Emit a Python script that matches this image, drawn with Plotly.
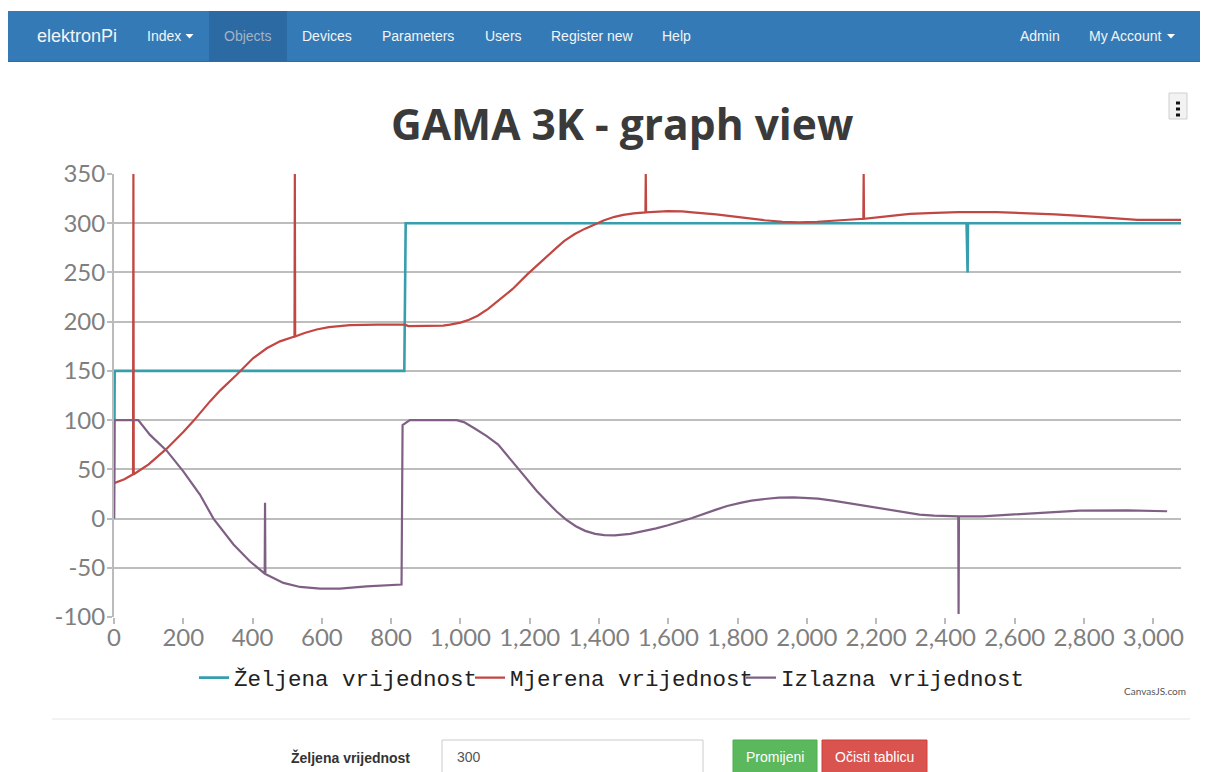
import plotly.graph_objects as go

# ---------------- data ----------------
series_names = ["Željena vrijednost", "Mjerena vrijednost", "Izlazna vrijednost"]
series_colors = ["#369EAD", "#C24642", "#7F6084"]

x_zeljena = [0, 2, 838, 842, 2461, 2462, 2464, 2465, 3080]
y_zeljena = [0, 150, 150, 300, 300, 250, 250, 300, 300]

x_mjerena = [0, 30, 55, 56, 57, 100, 152, 200, 229, 277, 306, 354, 402, 441, 479, 521, 522, 523,
             550, 585, 620, 681, 760, 839, 850, 900, 950, 970, 1000, 1025, 1050, 1080, 1109, 1150,
             1193, 1235, 1277, 1300, 1330, 1360, 1389, 1415, 1445, 1470, 1500, 1534, 1535, 1536,
             1599, 1640, 1670, 1738, 1810, 1878, 1930, 1976, 2030, 2087, 2163, 2164, 2165, 2230,
             2297, 2370, 2437, 2548, 2630, 2716, 2790, 2856, 2954, 3080]
y_mjerena = [36, 40, 45, 350, 45, 55, 71, 88, 99, 119, 130, 146, 163, 173, 180, 185, 350, 185,
             188.5, 192, 194.5, 196.5, 197, 197, 195.5, 195.5, 196, 197, 199, 202, 206, 213, 221, 233,
             248, 262, 275, 282, 289, 294.5, 299, 303, 306.5, 308.5, 310, 311, 350, 311,
             312.3, 312, 311, 309, 306, 303, 301.5, 301, 301.5, 303, 304.5, 350, 304.5, 307,
             309.5, 310.5, 311.3, 311.3, 310.5, 309, 307.5, 305.6, 303.3, 303.3]

x_izlazna = [0, 1, 70, 104, 152, 200, 248, 287, 345, 392, 435, 436, 437, 489, 537, 595, 652, 729,
             825, 830, 833, 854, 989, 1010, 1039, 1075, 1109, 1165, 1221, 1250, 1277, 1305, 1333,
             1360, 1389, 1415, 1445, 1490, 1529, 1565, 1599, 1669, 1738, 1770, 1808, 1840, 1878,
             1920, 1962, 2000, 2032, 2075, 2117, 2160, 2200, 2240, 2283, 2325, 2367, 2400, 2437,
             2438, 2439, 2507, 2647, 2787, 2926, 3040]
y_izlazna = [0, 100, 100, 85, 69, 48, 24.4, 0, -26.4, -43.4, -56, 16, -56.3, -65.4, -69.5, -71.1,
             -71.1, -68.8, -67, -67, 95, 100, 100, 98, 92, 84, 75.2, 51.4, 27.7, 17, 7.4, -1, -7.8,
             -12.5, -15.6, -16.8, -17, -15.5, -12.9, -10, -6.8, 0.6, 9.1, 12.7, 15.9, 18.2, 19.9,
             21.2, 21.6, 21.3, 20.3, 18.3, 15.9, 13.4, 10.8, 8.2, 5.7, 4, 3, 2.5, 2.3,
             -97, 2.3, 2.3, 5, 8.1, 8.4, 7.4]

x_tickvals = [0, 200, 400, 600, 800, 1000, 1200, 1400, 1600, 1800, 2000, 2200, 2400, 2600, 2800, 3000]
x_ticktext = ["0", "200", "400", "600", "800", "1,000", "1,200", "1,400", "1,600", "1,800",
              "2,000", "2,200", "2,400", "2,600", "2,800", "3,000"]
y_tickvals = [-100, -50, 0, 50, 100, 150, 200, 250, 300, 350]
y_ticktext = ["-100", "-50", "0", "50", "100", "150", "200", "250", "300", "350"]

chart_title = "GAMA 3K - graph view"
nav_items = ["Index", "Objects", "Devices", "Parameters", "Users", "Register new", "Help"]
nav_right = ["Admin", "My Account"]

# ---------------- page geometry ----------------
W, H = 1208, 772
PL, PR, PT, PB = 114, 1181, 174, 617


def fx(px):
    return (px - PL) / (PR - PL)


def fy(py):
    return (PB - py) / (PB - PT)


fig = go.Figure()
legend_ids = ["legend", "legend2", "legend3"]
for name, col, xs, ys, w, lg in [
    (series_names[0], series_colors[0], x_zeljena, y_zeljena, 2.6, legend_ids[0]),
    (series_names[1], series_colors[1], x_mjerena, y_mjerena, 2.2, legend_ids[1]),
    (series_names[2], series_colors[2], x_izlazna, y_izlazna, 2.2, legend_ids[2]),
]:
    fig.add_trace(go.Scatter(x=xs, y=ys, mode="lines", name=name, legend=lg,
                             line=dict(color=col, width=w)))

shapes = []
annotations = []


def rect(x0, y0, x1, y1, fill, line=None, lw=0, layer="above"):
    shapes.append(dict(type="rect", xref="paper", yref="paper",
                       x0=fx(x0), x1=fx(x1), y0=fy(y1), y1=fy(y0),
                       fillcolor=fill, line=dict(color=line or fill, width=lw), layer=layer))


def text(t, x, y, size=14, color="#fff", family="Liberation Sans, Arial, sans-serif",
         xanchor="left", bold=False):
    if bold:
        t = "<b>" + t + "</b>"
    annotations.append(dict(text=t, x=fx(x), y=fy(y), xref="paper", yref="paper",
                            xanchor=xanchor, yanchor="middle", showarrow=False,
                            font=dict(size=size, color=color, family=family)))


def caret(xc, yc, col="#fff"):
    shapes.append(dict(type="path", xref="paper", yref="paper",
                       path=f"M {fx(xc-4)},{fy(yc-2)} L {fx(xc+4)},{fy(yc-2)} L {fx(xc)},{fy(yc+2.5)} Z",
                       fillcolor=col, line=dict(width=0)))


# navbar
rect(8, 11, 1200, 62, "#337ab7")
rect(209, 11, 287, 61, "#2b6aa3")
shapes.append(dict(type="line", xref="paper", yref="paper", x0=fx(8), x1=fx(1200),
                   y0=fy(61.5), y1=fy(61.5), line=dict(color="#2e6da4", width=1)))
text("elektronPi", 35, 36, size=18, color="#f4f4f4")
nav_x = [145, 222, 300, 380, 483, 549, 660]
for t, xx in zip(nav_items, nav_x):
    text(t, xx, 36, color="#a4b3c4" if t == "Objects" else "#f4f4f4")
caret(189.5, 36)
text(nav_right[0], 1018, 36, color="#f4f4f4")
text(nav_right[1], 1087, 36, color="#f4f4f4")
caret(1171, 36)

# title
text(chart_title, 622, 124, size=42.5, color="#3a3a3a",
     family="Open Sans, Lato, sans-serif", xanchor="center", bold=True)

# menu button
rect(1169, 93, 1187, 119, "#f2f2f2", line="#cfcfcf", lw=1)
for yy in (103, 109, 115):
    rect(1176, yy - 1.5, 1180, yy + 1.5, "#111")

# credit
text("CanvasJS.com", 1188, 691, size=10, color="#555",
     family="Lato, Open Sans, sans-serif", xanchor="right")

# separator
shapes.append(dict(type="line", xref="paper", yref="paper", x0=fx(52), x1=fx(1190),
                   y0=fy(719), y1=fy(719), line=dict(color="#e6e6e6", width=1)))

# form row
text("Željena vrijednost", 412, 757, size=14, color="#333", xanchor="right", bold=True)
rect(442, 740, 703, 775, "#ffffff", line="#cccccc", lw=1)
text("300", 455, 757, size=14, color="#555")
rect(733, 740, 817, 775, "#5cb85c", line="#4cae4c", lw=1)
text("Promijeni", 775, 757, size=14, color="#fff", xanchor="center")
rect(822, 740, 927, 775, "#d9534f", line="#d43f3a", lw=1)
text("Očisti tablicu", 874.5, 757, size=14, color="#fff", xanchor="center")

legend_font = dict(family="Courier New, Liberation Mono, monospace", size=22.5, color="#222")


def legend_at(px_start):
    return dict(orientation="h", x=fx(px_start), xanchor="left", y=fy(678), yanchor="middle",
                font=legend_font, itemwidth=30, bgcolor="rgba(0,0,0,0)",
                itemclick=False, itemdoubleclick=False)


tick_font = dict(family="Lato, Open Sans, sans-serif", size=24, color="#7f7f7f")
fig.update_layout(
    width=W, height=H, autosize=False,
    margin=dict(l=PL, r=W - PR, t=PT, b=H - PB, pad=0),
    paper_bgcolor="#ffffff", plot_bgcolor="#ffffff",
    showlegend=True,
    legend=legend_at(194), legend2=legend_at(470), legend3=legend_at(741),
    xaxis=dict(range=[0, 3080], tickvals=x_tickvals, ticktext=x_ticktext, showgrid=False,
               zeroline=False, showline=False, ticks="outside", ticklen=6, tickwidth=2,
               tickcolor="#bbbbbb", tickfont=tick_font, fixedrange=True, ticklabelstandoff=-7),
    yaxis=dict(range=[-100, 350], tickvals=y_tickvals, ticktext=y_ticktext, showgrid=True,
               gridcolor="#bdbdbd", gridwidth=2, zeroline=False, showline=True,
               linecolor="#bbbbbb", linewidth=2, ticks="outside", ticklen=5, tickwidth=2,
               tickcolor="#bbbbbb", tickfont=tick_font, fixedrange=True, ticklabelstandoff=-3),
    shapes=shapes, annotations=annotations,
    hovermode=False,
)

fig.write_html("out.html", config={"displayModeBar": False},
               post_script="document.body.style.margin='0';")
